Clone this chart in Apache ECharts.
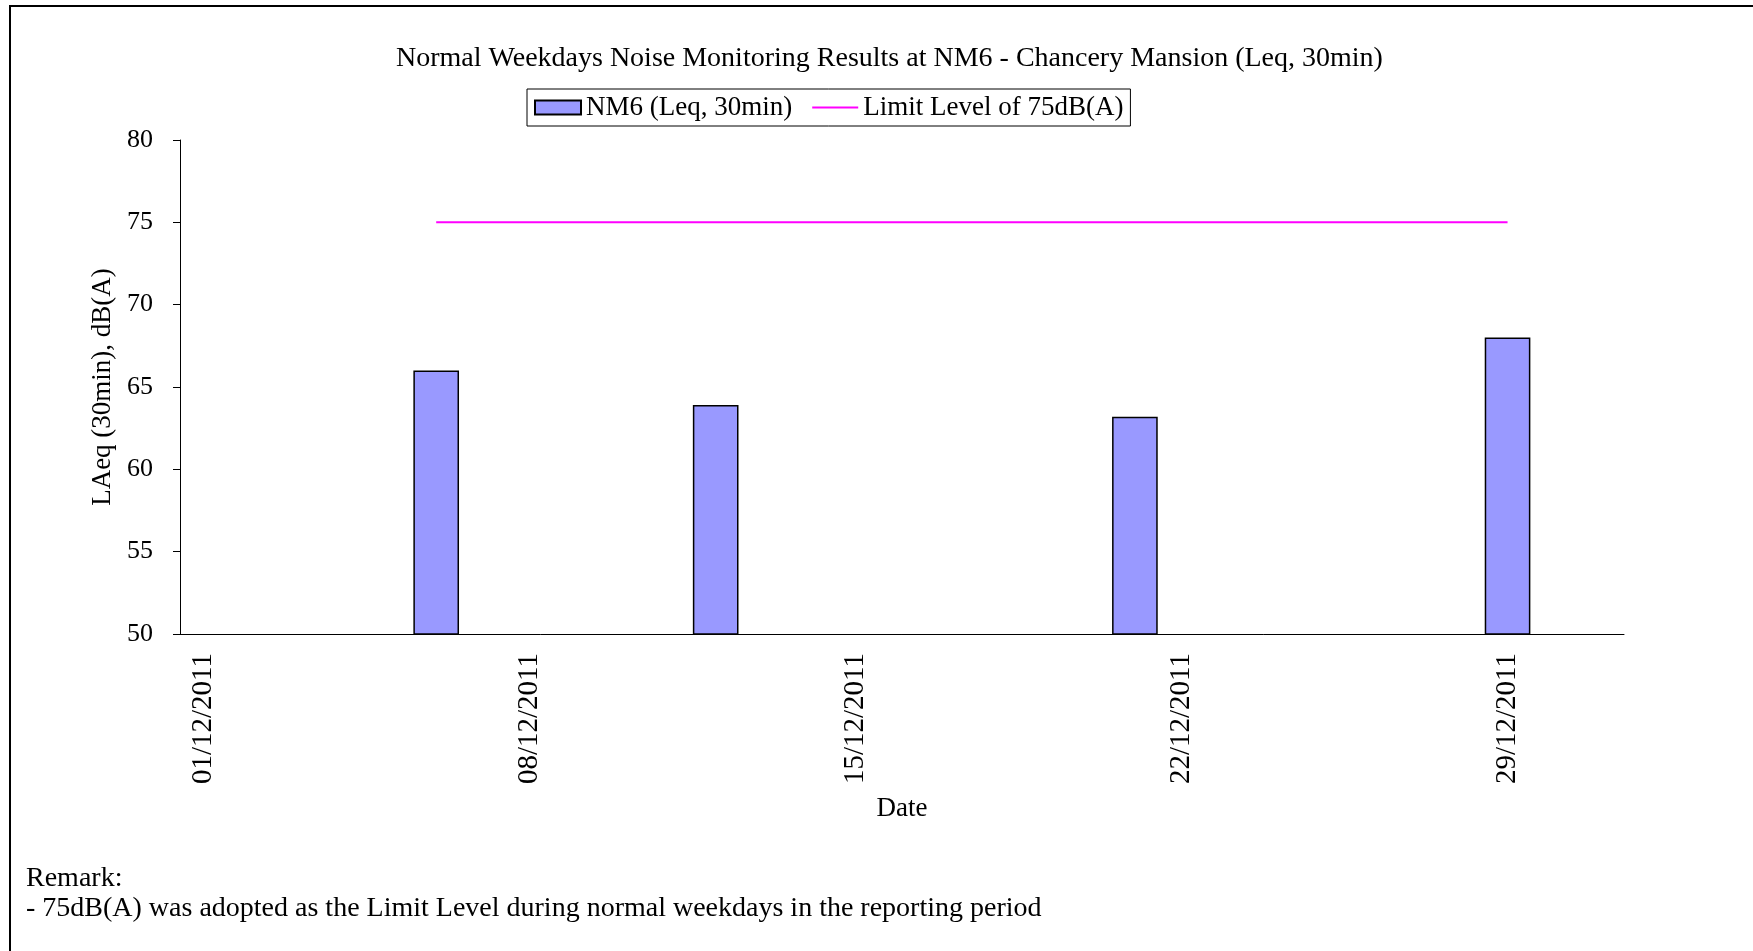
<!DOCTYPE html>
<html>
<head>
<meta charset="utf-8">
<title>NM6 - Chancery Mansion</title>
<script src="https://cdn.jsdelivr.net/npm/echarts@6/dist/echarts.min.js"></script>
<style>
  html, body { margin: 0; padding: 0; background: #fff; }
  #chart { width: 1753px; height: 951px; }
</style>
</head>
<body>
<div id="chart"></div>
<script>
  // days of the month shown on the date axis
  const categories = [
    "01/12/2011", "02/12/2011", "03/12/2011", "04/12/2011", "05/12/2011", "06/12/2011", "07/12/2011",
    "08/12/2011", "09/12/2011", "10/12/2011", "11/12/2011", "12/12/2011", "13/12/2011", "14/12/2011",
    "15/12/2011", "16/12/2011", "17/12/2011", "18/12/2011", "19/12/2011", "20/12/2011", "21/12/2011",
    "22/12/2011", "23/12/2011", "24/12/2011", "25/12/2011", "26/12/2011", "27/12/2011", "28/12/2011",
    "29/12/2011", "30/12/2011", "31/12/2011"
  ]
  // monitoring days and results
  const sampleDates = ["06/12/2011", "12/12/2011", "21/12/2011", "29/12/2011"]
  const nm6Values = [66.0, 63.9, 63.2, 68.0]
  const limitValues = [75, 75, 75, 75]

  const yTicks = [50, 55, 60, 65, 70, 75, 80]

  const fontName = "Liberation Serif"

  function onAxis(values) {
    return categories.map(c => {
      let i = sampleDates.indexOf(c)
      return i >= 0 ? values[i] : null
    })
  }

  let myChart = echarts.init(document.getElementById("chart"))
  myChart.setOption({
    animation: false,
    textStyle: { fontFamily: fontName, color: "#000" },
    title: {
      text: "Normal Weekdays Noise Monitoring Results at NM6 - Chancery Mansion (Leq, 30min)",
      left: 396,
      top: 45,
      padding: 0,
      textStyle: { fontFamily: fontName, fontSize: 28, fontWeight: "normal", color: "#000" }
    },
    legend: {
      left: 527,
      top: 89,
      padding: [5, 7],
      itemGap: 19,
      itemWidth: 46,
      itemHeight: 14,
      borderColor: "#000",
      borderWidth: 1,
      textStyle: { fontFamily: fontName, fontSize: 27, color: "#000" },
      data: [
        { name: "NM6 (Leq, 30min)", icon: "rect" },
        { name: "Limit Level of 75dB(A)", itemStyle: { color: "rgba(0,0,0,0)", opacity: 0 } }
      ]
    },
    grid: {
      left: 180,
      right: 129,
      top: 140,
      bottom: 317
    },
    xAxis: {
      type: "category",
      data: categories,
      boundaryGap: true,
      name: "Date",
      nameLocation: "middle",
      nameGap: 161,
      nameTextStyle: { fontFamily: fontName, fontSize: 27, color: "#000" },
      axisLine: { lineStyle: { color: "#000", width: 1 } },
      axisTick: { interval: 6, length: 7, lineStyle: { color: "#000" } },
      axisLabel: {
        interval: 6,
        rotate: 90,
        margin: 19,
        fontFamily: fontName,
        fontSize: 29,
        color: "#000"
      },
      splitLine: { show: false }
    },
    yAxis: {
      type: "value",
      min: yTicks[0],
      max: yTicks[yTicks.length - 1],
      interval: 5,
      name: "LAeq (30min), dB(A)",
      nameLocation: "middle",
      nameGap: 62,
      nameTextStyle: { fontFamily: fontName, fontSize: 27, color: "#000" },
      axisLine: { show: true, lineStyle: { color: "#000", width: 1 } },
      axisTick: { show: true, length: 7, lineStyle: { color: "#000" } },
      axisLabel: { margin: 27, fontFamily: fontName, fontSize: 26, color: "#000" },
      splitLine: { show: false }
    },
    series: [
      {
        name: "NM6 (Leq, 30min)",
        type: "bar",
        barCategoryGap: "2%",
        itemStyle: {
          color: "#9999FF",
          borderColor: "#000",
          borderWidth: 1.5
        },
        data: onAxis(nm6Values)
      },
      {
        name: "Limit Level of 75dB(A)",
        type: "line",
        symbol: "none",
        connectNulls: true,
        lineStyle: { color: "#FF00FF", width: 2 },
        itemStyle: { color: "#FF00FF" },
        data: onAxis(limitValues)
      }
    ],
    graphic: [
      {
        type: "rect",
        shape: { x: 10, y: 6, width: 1760, height: 970 },
        style: { fill: "none", stroke: "#000", lineWidth: 2 },
        silent: true
      },
      {
        type: "text",
        left: 26,
        top: 865,
        style: { text: "Remark:", font: "28px " + fontName, fill: "#000" }
      },
      {
        type: "text",
        left: 26,
        top: 895,
        style: {
          text: "- 75dB(A) was adopted as the Limit Level during normal weekdays in the reporting period",
          font: "28px " + fontName,
          fill: "#000"
        }
      }
    ]
  })
</script>
</body>
</html>
